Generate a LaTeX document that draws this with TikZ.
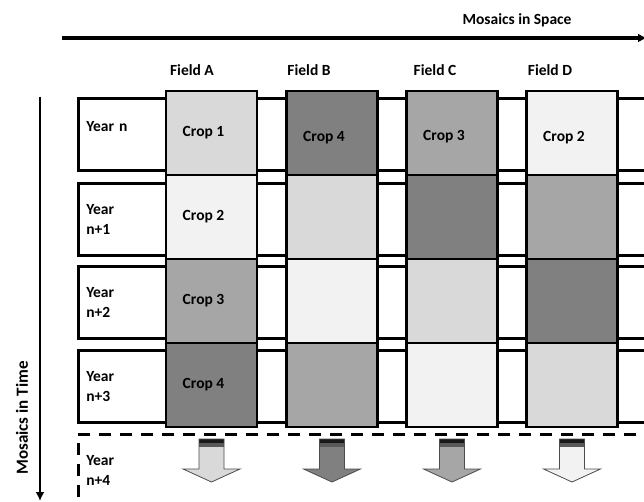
\documentclass[tikz,border=0pt]{standalone}
\usepackage{fontspec}
\setmainfont{Carlito}
\usetikzlibrary{positioning,arrows.meta}

\definecolor{cropone}{HTML}{D9D9D9}
\definecolor{croptwo}{HTML}{F2F2F2}
\definecolor{cropthree}{HTML}{A6A6A6}
\definecolor{cropfour}{HTML}{808080}

\tikzset{
  lbl/.style={font=\bfseries\fontsize{15.5}{20}\selectfont},
  yearrow/.style={lbl,draw,line width=2.6pt,fill=white,anchor=north west,
    minimum width=600pt,minimum height=72pt,text width=584pt,align=left,inner sep=5pt},
  cell/.style={lbl,draw,line width=2.6pt,minimum width=91pt,minimum height=84pt,
    execute at begin node={\hspace*{-16pt}}},
  nextarrow/.style={draw=black!70,line width=0.8pt,
    path picture={
      \fill[black!90] (path picture bounding box.north west) rectangle ([yshift=-4pt]path picture bounding box.north east);
      \fill[black!65] ([yshift=-4pt]path picture bounding box.north west) rectangle ([yshift=-8pt]path picture bounding box.north east);}},
}
\newcommand{\lift}[2]{\raisebox{#1}[0pt][0pt]{#2}}

\begin{document}
\begin{tikzpicture}[x=1pt,y=-1pt]
 \useasboundingbox (0,0) rectangle (644,502);

 % axes
 \coordinate (sp0) at (62,38);
 \coordinate (sp1) at (647,38);
 \draw[line width=3.5pt,-{Latex[length=9pt,width=9pt]}] (sp0) -- (sp1);
 \node[lbl] (space) at (517,20) {Mosaics in Space};

 \coordinate (tm0) at (40,97);
 \coordinate (tm1) at (40,501);
 \draw[line width=2.8pt,-{Latex[length=9pt,width=9pt]}] (tm0) -- (tm1);
 \node[lbl,rotate=90,font=\bfseries\fontsize{17}{20}\selectfont] (time) at (22,418) {Mosaics in Time};

 % field titles
 \node[lbl] (fa) at (192,70) {Field A};
 \node[lbl] (fb) at (309,70) {Field B};
 \node[lbl] (fc) at (435,70) {Field C};
 \node[lbl] (fd) at (550,70) {Field D};

 % years
 \node[yearrow] (y0) at (77,97) {\lift{3pt}{Year n}};
 \node[yearrow] (y1) at (77,182) {Year\\n+1};
 \node[yearrow] (y2) at (77,265) {Year\\n+2};
 \node[yearrow] (y3) at (77,349) {Year\\n+3};
 \node[yearrow,fill=none,dash pattern=on 12pt off 9pt] (y4) at (77,433) {Year\\n+4};

 % field A
 \node[cell,fill=cropone] (a0) at (211.5,133) {Crop 1};
 \node[cell,fill=croptwo] (a1) at (211.5,217) {Crop 2};
 \node[cell,fill=cropthree] (a2) at (211.5,301) {Crop 3};
 \node[cell,fill=cropfour] (a3) at (211.5,385) {Crop 4};
 % field B
 \node[cell,fill=cropfour] (b0) at (332,133) {\lift{-9pt}{Crop 4}};
 \node[cell,fill=cropone] (b1) at (332,217) {};
 \node[cell,fill=croptwo] (b2) at (332,301) {};
 \node[cell,fill=cropthree] (b3) at (332,385) {};
 % field C
 \node[cell,fill=cropthree] (c0) at (452,133) {\lift{-8pt}{Crop 3}};
 \node[cell,fill=cropfour] (c1) at (452,217) {};
 \node[cell,fill=cropone] (c2) at (452,301) {};
 \node[cell,fill=croptwo] (c3) at (452,385) {};
 % field D
 \node[cell,fill=croptwo] (d0) at (572,133) {\lift{-9pt}{Crop 2}};
 \node[cell,fill=cropthree] (d1) at (572,217) {};
 \node[cell,fill=cropfour] (d2) at (572,301) {};
 \node[cell,fill=cropone] (d3) at (572,385) {};

 % next year
 \coordinate (na) at (211.5,439);
 \coordinate (nb) at (332,439);
 \coordinate (nc) at (452,439);
 \coordinate (nd) at (572,439);
 \draw[nextarrow,fill=cropone,shift={(na)}] (-12.5,0) -- (12.5,0) -- (12.5,30) -- (28.5,30) -- (0,43) -- (-28.5,30) -- (-12.5,30) -- cycle;
 \draw[nextarrow,fill=cropfour,shift={(nb)}] (-12.5,0) -- (12.5,0) -- (12.5,30) -- (28.5,30) -- (0,43) -- (-28.5,30) -- (-12.5,30) -- cycle;
 \draw[nextarrow,fill=cropthree,shift={(nc)}] (-12.5,0) -- (12.5,0) -- (12.5,30) -- (28.5,30) -- (0,43) -- (-28.5,30) -- (-12.5,30) -- cycle;
 \draw[nextarrow,fill=croptwo,shift={(nd)}] (-12.5,0) -- (12.5,0) -- (12.5,30) -- (28.5,30) -- (0,43) -- (-28.5,30) -- (-12.5,30) -- cycle;
\end{tikzpicture}
\end{document}
